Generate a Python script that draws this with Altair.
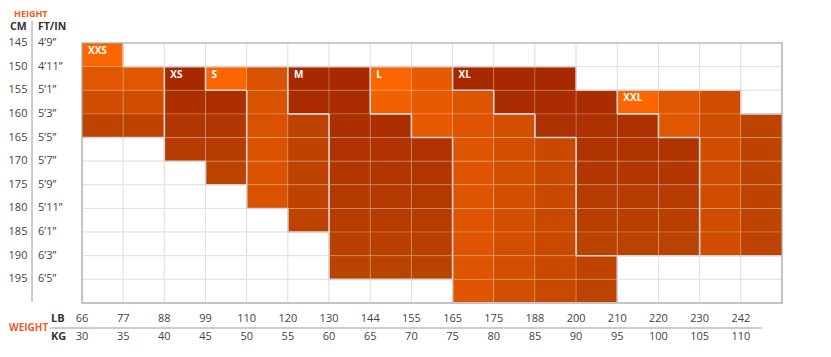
import altair as alt
import pandas as pd

# ---- data ----
cm_labels = [145, 150, 155, 160, 165, 170, 175, 180, 185, 190, 195]
ftin_labels = ["4’9”", "4’11”", "5’1”", "5’3”", "5’5”", "5’7”", "5’9”", "5’11”", "6’1”", "6’3”", "6’5”"]
lb_labels = [66, 77, 88, 99, 110, 120, 130, 144, 155, 165, 175, 188, 200, 210, 220, 230, 242]
kg_labels = [30, 35, 40, 45, 50, 55, 60, 65, 70, 75, 80, 85, 90, 95, 100, 105, 110]

sizes = ["XXS", "XS", "S", "M", "L", "XL", "XXL"]
tones = ["light", "dark", "light", "dark", "light", "dark", "light"]
grad_dir = ["v", "v", "h", "v", "h", "v", "h"]
# (row index, first column, last column) per size
spans = {
    "XXS": [(0, 0, 0), (1, 0, 1), (2, 0, 1), (3, 0, 1)],
    "XS": [(1, 2, 2), (2, 2, 3), (3, 2, 3), (4, 2, 3), (5, 3, 3)],
    "S": [(1, 3, 4), (2, 4, 4), (3, 4, 5), (4, 4, 5), (5, 4, 5), (6, 4, 5), (7, 5, 5)],
    "M": [(1, 5, 6), (2, 5, 6), (3, 6, 7), (4, 6, 8), (5, 6, 8), (6, 6, 8), (7, 6, 8), (8, 6, 8), (9, 6, 8)],
    "L": [(1, 7, 8), (2, 7, 9), (3, 8, 10), (4, 9, 11), (5, 9, 11), (6, 9, 11), (7, 9, 11), (8, 9, 11), (9, 9, 12), (10, 9, 12)],
    "XL": [(1, 9, 11), (2, 10, 12), (3, 11, 13), (4, 12, 14), (5, 12, 14), (6, 12, 14), (7, 12, 14), (8, 12, 14)],
    "XXL": [(2, 13, 15), (3, 14, 16), (4, 15, 16), (5, 15, 16), (6, 15, 16), (7, 15, 16), (8, 15, 16)],
}

NCOL = len(lb_labels)
NROW = len(cm_labels)

def hex2rgb(h):
    h = h.lstrip("#")
    return [int(h[i:i + 2], 16) for i in (0, 2, 4)]

def lerp(a, b, t):
    ra, rb = hex2rgb(a), hex2rgb(b)
    return "#" + "".join("%02x" % round(ra[i] + (rb[i] - ra[i]) * t) for i in range(3))

tone_colors = {"light": ("#f26000", "#bf4300"), "dark": ("#a82800", "#bb4300")}

# build cell table
owner = {}
rows = []
for s, tone, d in zip(sizes, tones, grad_dir):
    cells = [(r, c) for r, c0, c1 in spans[s] for c in range(c0, c1 + 1)]
    rmin = min(r for r, _ in cells); rmax = max(r for r, _ in cells)
    cmin = min(c for _, c in cells); cmax = max(c for _, c in cells)
    first = min(cells)
    for r, c in cells:
        owner[(r, c)] = s
        if d == "h":
            t = (c - cmin) / max(cmax - cmin, 1)
        else:
            t = (r - rmin) / max(rmax - rmin, 1)
        col = lerp(*tone_colors[tone], t)
        if (r, c) == first and tone == "light":
            col = "#fb6600"
        rows.append(dict(size=s, row=r, row2=r + 1, col=c, col2=c + 1, fill=col,
                         label=s if (r, c) == first else ""))
cells_df = pd.DataFrame(rows)

bg_df = pd.DataFrame([dict(row=r, row2=r + 1, col=c, col2=c + 1) for r in range(NROW) for c in range(NCOL)])

# region borders (between cells owned by different sizes)
segs = []
for r in range(NROW):
    for c in range(NCOL - 1):
        a, b = owner.get((r, c)), owner.get((r, c + 1))
        if a != b:
            segs.append(dict(x=c + 1, x2=c + 1, y=r, y2=r + 1))
for r in range(NROW - 1):
    for c in range(NCOL):
        a, b = owner.get((r, c)), owner.get((r + 1, c))
        if a != b:
            segs.append(dict(x=c, x2=c + 1, y=r + 1, y2=r + 1))
seg_df = pd.DataFrame(segs)

ylab_df = pd.DataFrame(dict(row=list(range(NROW)), cm=[str(v) for v in cm_labels], ft=ftin_labels))
xlab_df = pd.DataFrame(dict(col=list(range(NCOL)), lb=[str(v) for v in lb_labels], kg=[str(v) for v in kg_labels]))
one = pd.DataFrame(dict(a=[0]))

W, H = 700, 260
FONT = "Open Sans"
xs = alt.Scale(domain=[0, NCOL], nice=False, zero=False)
ys = alt.Scale(domain=[0, NROW], nice=False, zero=False, reverse=True)

X = lambda f: alt.X(f + ":Q", scale=xs, axis=None)
Y = lambda f: alt.Y(f + ":Q", scale=ys, axis=None)

bg = alt.Chart(bg_df).mark_rect(fill="white", stroke="#e2e2e2", strokeWidth=1).encode(
    x=X("col"), x2="col2", y=Y("row"), y2="row2")

cells = alt.Chart(cells_df).mark_rect(stroke="#ffffff", strokeOpacity=0.18, strokeWidth=1).encode(
    x=X("col"), x2="col2", y=Y("row"), y2="row2",
    fill=alt.Fill("fill:N", scale=None))

borders = alt.Chart(seg_df).mark_rule(color="#d4d4d4", strokeWidth=1.6).encode(
    x=X("x"), x2="x2", y=Y("y"), y2="y2")

frame = alt.Chart(one).mark_rect(fill=None, stroke="#a8a8a8", strokeWidth=1.2).encode(
    x=alt.value(0), x2=alt.value(W), y=alt.value(0), y2=alt.value(H))
bottom = alt.Chart(one).mark_rule(color="#c4c4c4", strokeWidth=2.2).encode(
    x=alt.value(0), x2=alt.value(W + 1), y=alt.value(H), y2=alt.value(H))

size_text = alt.Chart(cells_df[cells_df.label != ""]).mark_text(
    align="left", baseline="middle", dx=6, dy=8, color="white", fontWeight="bold",
    fontSize=10, font=FONT).encode(x=X("col"), y=Y("row"), text="label:N")

LBY, KGY, LINEY = 276, 294, 285
cm_text = alt.Chart(ylab_df).mark_text(align="center", baseline="middle", fontSize=11,
                                       color="#444", font=FONT).encode(
    x=alt.value(-64), y=Y("row"), text="cm:N")
ft_text = alt.Chart(ylab_df).mark_text(align="left", baseline="middle", fontSize=11,
                                       color="#444", font=FONT).encode(
    x=alt.value(-44), y=Y("row"), text="ft:N")
lb_text = alt.Chart(xlab_df).mark_text(align="center", baseline="middle", fontSize=11,
                                       color="#444", font=FONT).encode(
    x=X("col"), y=alt.value(LBY), text="lb:N")
kg_text = alt.Chart(xlab_df).mark_text(align="center", baseline="middle", fontSize=11,
                                       color="#444", font=FONT).encode(
    x=X("col"), y=alt.value(KGY), text="kg:N")

headers = pd.DataFrame(dict(
    t=["CM", "FT/IN", "WEIGHT", "LB", "KG"],
    px=[-72, -44, -73, -31, -31],
    py=[-16, -16, LINEY, LBY, KGY],
    fs=[10.5, 10.5, 10, 11, 11],
    c=["#333333", "#333333", "#f15a24", "#333333", "#333333"],
))
head_text = alt.Chart(headers).mark_text(align="left", baseline="middle",
                                         fontWeight="bold", font=FONT).encode(
    x=alt.X("px:Q", scale=None, axis=None), y=alt.Y("py:Q", scale=None, axis=None),
    text="t:N", color=alt.Color("c:N", scale=None),
    size=alt.Size("fs:Q", scale=None))
height_title = alt.Chart(one).mark_text(align="left", baseline="top", fontWeight="bold",
                                        fontSize=9, font=FONT, color="#f15a24",
                                        text="HEIGHT").encode(
    x=alt.value(-68), y=alt.value(-33))

vline = alt.Chart(one).mark_rule(color="#9a9a9a", strokeWidth=1).encode(
    x=alt.value(-50), x2=alt.value(-50), y=alt.value(-22), y2=alt.value(H - 1))
hline = alt.Chart(one).mark_rule(color="#9a9a9a", strokeWidth=1).encode(
    x=alt.value(-32), x2=alt.value(680), y=alt.value(LINEY), y2=alt.value(LINEY))

chart = alt.layer(bg, cells, borders, frame, bottom, size_text, cm_text, ft_text,
                  lb_text, kg_text, head_text, height_title, vline, hline).properties(
    width=W, height=H,
    autosize=alt.AutoSizeParams(type="none"),
    padding={"left": 74, "top": 35, "right": 41, "bottom": 46},
).configure_view(stroke=None)

chart.save("out.html", embed_options={"renderer": "svg", "actions": False})
